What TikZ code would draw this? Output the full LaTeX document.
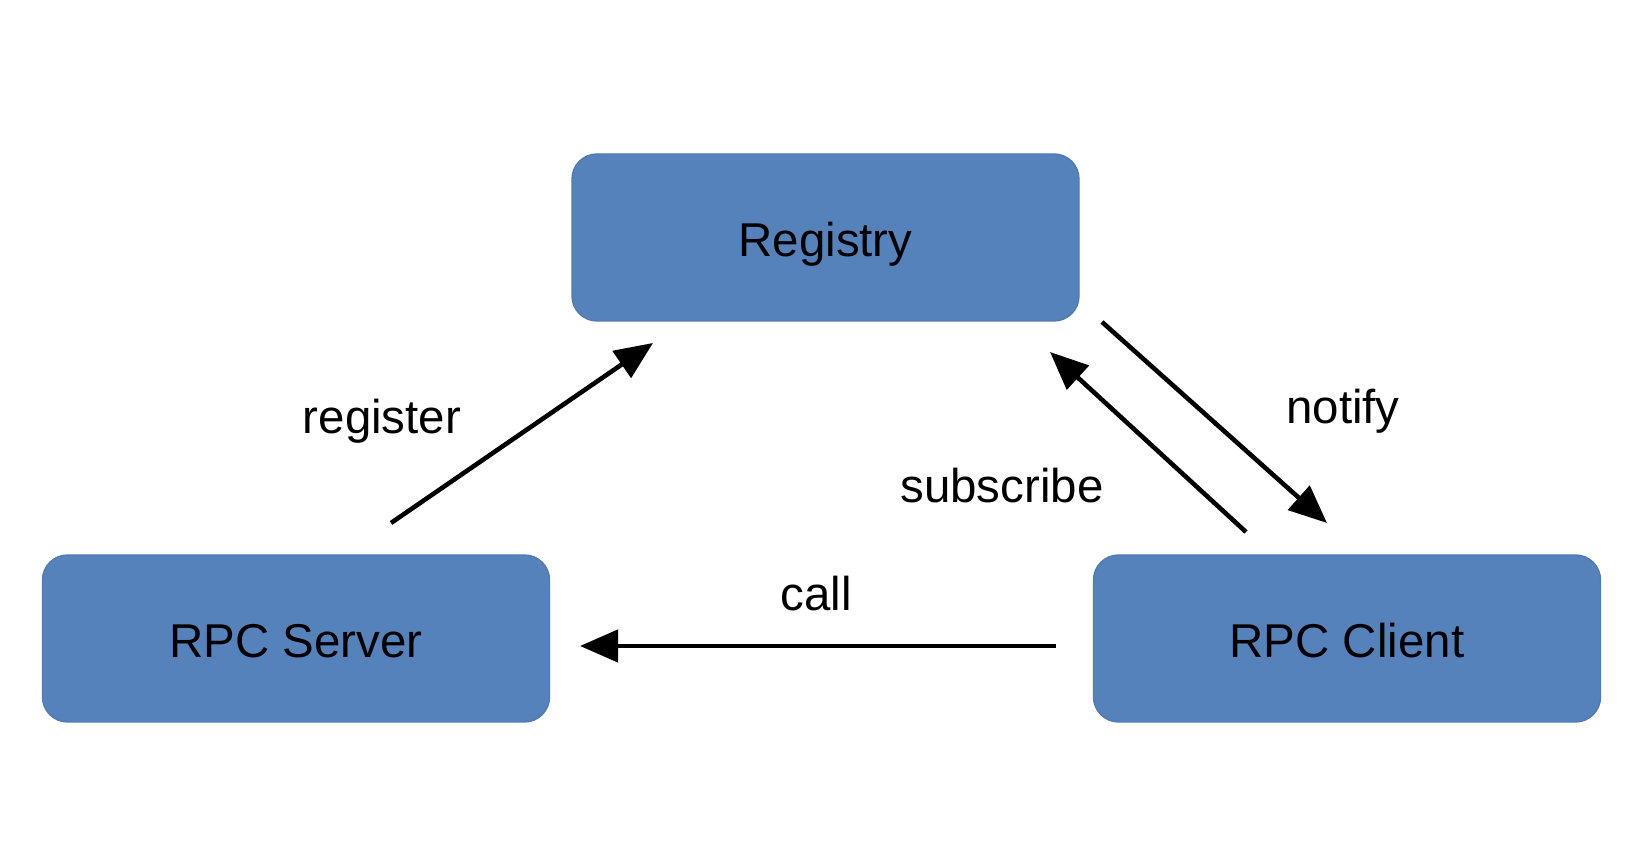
\documentclass[tikz,border=0pt]{standalone}
\usepackage{fontspec}
\setmainfont{Liberation Sans}
\usepackage{tikz}
\usetikzlibrary{arrows.meta, positioning, calc}
\definecolor{boxblue}{HTML}{5682BC}

\begin{document}
\begin{tikzpicture}[
    font=\fontsize{13.5}{16}\selectfont,
    box/.style={draw=boxblue!95!black, line width=0.4pt, fill=boxblue, rounded corners=0.25cm,
                minimum width=5.07cm, minimum height=1.67cm, text height=0.48cm, text depth=0.1cm},
    flow/.style={line width=1.3pt, -{Triangle[length=0.38cm, width=0.32cm]}}
  ]
  \useasboundingbox (0,0) rectangle (16.51,8.64);
  \node [box] at (8.255, 6.265) (reg) {Registry};
  \node [box] at (2.96, 2.255) (srv) {RPC Server};
  \node [box] at (13.47, 2.255) (cli) {RPC Client};
  \coordinate (r1) at (3.91, 3.41);
  \coordinate (r2) at (6.53, 5.21);
  \coordinate (s1) at (12.46, 3.32);
  \coordinate (s2) at (10.50, 5.12);
  \coordinate (n1) at (11.02, 5.42);
  \coordinate (n2) at (13.27, 3.41);
  \coordinate (c1) at (10.56, 2.18);
  \coordinate (c2) at (5.80, 2.18);
  \draw [flow] (r1) -- (r2);
  \draw [flow] (s1) -- (s2);
  \draw [flow] (n1) -- (n2);
  \draw [flow] (c1) -- (c2);
  \node at (3.82, 4.43) (lreg) {register};
  \node at (10.02, 3.78) (lsub) {subscribe};
  \node at (13.43, 4.53) (lnot) {notify};
  \node at (8.16, 2.70) (lcal) {call};
\end{tikzpicture}
\end{document}
